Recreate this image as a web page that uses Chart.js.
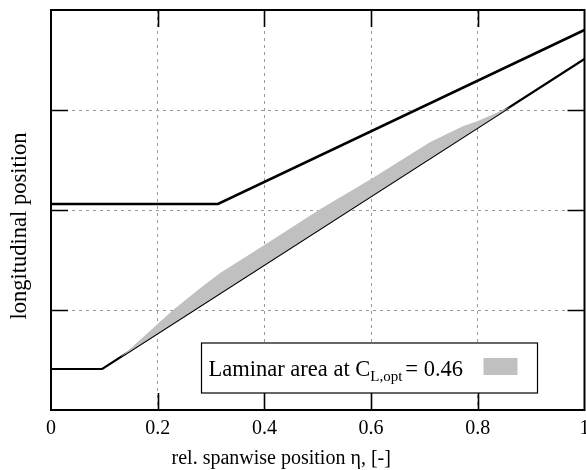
<!DOCTYPE html>
<html><head><meta charset="utf-8">
<script src="https://cdn.jsdelivr.net/npm/chart.js@4.4.0/dist/chart.umd.min.js"></script>
<style>html,body{margin:0;padding:0;background:#fff}#wrap{width:586px;height:470px;position:relative}</style>
</head><body><div id="wrap"><canvas id="c"></canvas></div>
<script>
// ---- data ----
const xTicks = [0, 0.2, 0.4, 0.6, 0.8, 1];
const yTicks = [0, 1, 2, 3, 4];
const upperEta = [0, 0.313, 1];
const upperPos = [2.06, 2.06, 3.80];
const lowerEta = [0, 0.096, 1];
const lowerPos = [0.41, 0.41, 3.51];
const lamTopEta = [0.13, 0.15, 0.229, 0.28, 0.317, 0.4, 0.505, 0.6, 0.711, 0.773, 0.8, 0.861];
const lamTopPos = [0.527, 0.62, 1.0, 1.22, 1.37, 1.65, 2.01, 2.31, 2.68, 2.84, 2.89, 3.033];
const lamBaseEta = [0.13, 0.861];
const lamBasePos = [0.527, 3.033];
const legendLabel = 'Laminar area at C';
const legendSub = 'L,opt';
const legendValue = '= 0.46';
const xTitle = 'rel. spanwise position \u03b7, [-]';
const yTitle = 'longitudinal position';

const FONT = '"Liberation Serif", "Times New Roman", serif';
const pts = (xs, ys) => xs.map((v, i) => ({x: v, y: ys[i]}));

const framePlugin = {
  id: 'frame',
  afterDatasetsDraw(chart) {
    const {ctx, chartArea: a, scales: {x, y}} = chart;
    ctx.save();
    ctx.strokeStyle = '#000';
    ctx.lineWidth = 1.6;
    const tl = 17;
    ctx.beginPath();
    xTicks.slice(1, -1).forEach(v => {
      const px = Math.round(x.getPixelForValue(v)) + 0.5;
      ctx.moveTo(px, a.bottom); ctx.lineTo(px, a.bottom - tl);
      ctx.moveTo(px, a.top); ctx.lineTo(px, a.top + tl);
    });
    yTicks.slice(1, -1).forEach(v => {
      const py = Math.round(y.getPixelForValue(v)) + 0.5;
      ctx.moveTo(a.left, py); ctx.lineTo(a.left + tl, py);
      ctx.moveTo(a.right, py); ctx.lineTo(a.right - tl, py);
    });
    ctx.stroke();
    ctx.lineWidth = 2;
    ctx.strokeRect(a.left, a.top, a.right - a.left, a.bottom - a.top);
    ctx.restore();
  },
  afterDraw(chart) {
    const {ctx, chartArea: a} = chart;
    const W = a.right - a.left, H = a.bottom - a.top;
    ctx.save();
    // axis titles
    ctx.fillStyle = '#000';
    ctx.textAlign = 'center';
    ctx.textBaseline = 'alphabetic';
    ctx.font = '20px ' + FONT;
    ctx.fillText(xTitle, a.left + 0.4315 * W, a.bottom + 54);
    ctx.save();
    ctx.translate(a.left - 25, a.top + 0.54 * H);
    ctx.rotate(-Math.PI / 2);
    ctx.font = '22.5px ' + FONT;
    ctx.fillText(yTitle, 0, 0);
    ctx.restore();
    // legend
    ctx.textAlign = 'left';
    const bw = 336, bh = 50;
    const bx = a.right - 47 - bw, by = a.bottom - 17 - bh;
    ctx.fillStyle = '#fff';
    ctx.fillRect(bx, by, bw, bh);
    ctx.strokeStyle = '#000';
    ctx.lineWidth = 1.2;
    ctx.strokeRect(bx, by, bw, bh);
    ctx.fillStyle = '#000';
    const base = by + 33;
    let cx = bx + 7;
    ctx.font = '22.5px ' + FONT;
    ctx.fillText(legendLabel, cx, base);
    cx += ctx.measureText(legendLabel).width;
    ctx.font = '15px ' + FONT;
    ctx.fillText(legendSub, cx, base + 5);
    cx += ctx.measureText(legendSub).width + 3;
    ctx.font = '22.5px ' + FONT;
    ctx.fillText(legendValue, cx, base);
    ctx.fillStyle = '#c0c0c0';
    ctx.fillRect(bx + 282, by + 15, 34, 17);
    ctx.restore();
  }
};

new Chart(document.getElementById('c'), {
  type: 'scatter',
  data: {
    datasets: [
      { label: 'laminar', data: pts(lamTopEta, lamTopPos), showLine: true, fill: 1,
        backgroundColor: '#c0c0c0', borderWidth: 0, pointRadius: 0, order: 0 },
      { label: 'laminar base', data: pts(lamBaseEta, lamBasePos), showLine: true, fill: false,
        borderWidth: 0, borderColor: 'rgba(0,0,0,0)', pointRadius: 0, order: 3 },
      { label: 'upper', data: pts(upperEta, upperPos), showLine: true, fill: false,
        borderColor: '#000', borderWidth: 2.6, pointRadius: 0, order: 1 },
      { label: 'lower', data: pts(lowerEta, lowerPos), showLine: true, fill: false,
        borderColor: '#000', borderWidth: 2.2, pointRadius: 0, order: 2 }
    ]
  },
  options: {
    responsive: true, maintainAspectRatio: false, animation: false,
    layout: { padding: { left: 0, right: 1.5, top: 10, bottom: 0 } },
    plugins: { legend: { display: false }, tooltip: { enabled: false } },
    elements: { line: { tension: 0 } },
    scales: {
      x: {
        type: 'linear', min: 0, max: 1,
        afterBuildTicks: s => { s.ticks = xTicks.map(v => ({value: v})); },
        afterFit: s => { s.height = 60; s.paddingLeft = 0; s.paddingRight = 0; },
        ticks: { color: '#000', font: { family: FONT, size: 20 }, padding: 7, maxRotation: 0,
                 callback: v => String(parseFloat(v.toFixed(2))) },
        grid: { color: '#999', drawTicks: false, lineWidth: 1 },
        border: { display: false, dash: [3, 4] },
        title: { display: false }
      },
      y: {
        type: 'linear', min: 0, max: 4,
        afterBuildTicks: s => { s.ticks = yTicks.map(v => ({value: v})); },
        afterFit: s => { s.width = 51; s.paddingTop = 0; s.paddingBottom = 0; },
        ticks: { display: false },
        grid: { color: '#999', drawTicks: false, lineWidth: 1 },
        border: { display: false, dash: [3, 4] },
        title: { display: false }
      }
    }
  },
  plugins: [framePlugin]
});
</script></body></html>
